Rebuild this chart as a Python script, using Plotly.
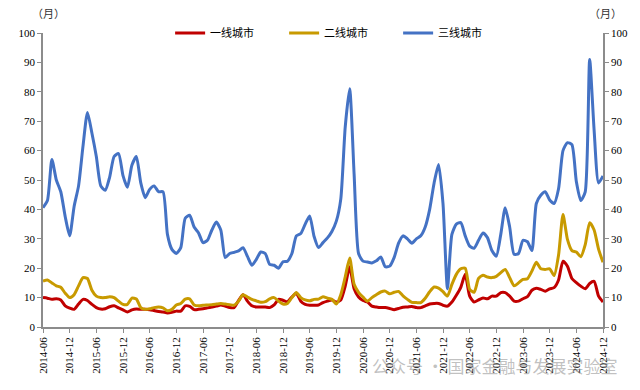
import plotly.graph_objects as go

months = []
y, m = 2014, 6
while (y, m) <= (2024, 12):
    months.append(f"{y}-{m:02d}")
    m += 1
    if m > 12:
        m = 1
        y += 1

tier1 = [10, 9.8, 9.4, 9.6, 9.2, 7.2, 6.4, 6, 7.8, 9.4, 9, 7.7, 6.6, 6.1, 6.2, 6.9, 7.2, 6.5, 5.8, 5.1,
         5.8, 6.1, 6, 6, 5.9, 5.6, 5.3, 5.1, 4.8, 5, 5.4, 5.4, 7.2, 7, 5.9, 6, 6.2, 6.5, 6.8, 7.1,
         7.5, 7.1, 6.6, 6.6, 9, 11, 8.8, 7.2, 6.8, 6.8, 6.8, 6.6, 7.5, 9.4, 9.1, 8.6, 10.2, 11.5, 8.8, 7.7,
         7.4, 7.4, 7.5, 8.3, 8.8, 9.2, 8.5, 9.2, 13.9, 20.5, 13, 10.2, 9, 8.5, 7.1, 6.8, 6.6, 6.6, 6.3, 5.9,
         6.3, 6.7, 6.8, 7, 6.6, 6.6, 7.2, 7.8, 8, 8, 7.4, 7.1, 8.5, 10.8, 13.5, 17.9, 10.5, 8.5, 9.2, 9.9,
         9.6, 10.5, 10.5, 11.7, 11.7, 10.5, 8.8, 8.8, 9.6, 10.3, 12.5, 13.2, 12.8, 12.2, 13, 13.4, 16, 22.4, 20.7, 16.5,
         15.1, 13.9, 13, 14.8, 15.5, 10.5, 8.5]

tier2 = [15.6, 16, 15, 14, 13.5, 11.5, 10, 11, 14, 16.8, 16.5, 12.5, 10.5, 10, 10, 10.3, 10, 8.8, 7.7, 7.7,
         9.8, 9.5, 6.6, 6, 6.2, 6.6, 6.8, 6.5, 5.5, 6, 7.5, 8, 9.5, 9.6, 7.5, 7.2, 7.4, 7.5, 7.6, 7.8,
         8, 7.8, 7.6, 7.4, 8.8, 11, 10.2, 9.4, 8.9, 8.4, 8.6, 9.6, 10, 8.8, 7.8, 8, 10, 11.7, 10, 9.2,
         8.9, 9.4, 9.5, 10.3, 9.8, 9.4, 7.8, 11, 17, 23.5, 14.5, 11.8, 10.2, 8.8, 10, 11, 11.9, 12.2, 11.3, 11.8,
         12.1, 10.6, 9.4, 8.4, 8.3, 8.3, 9.8, 12, 13.6, 13.2, 12, 10.5, 14.5, 17.9, 19.8, 20, 12.8, 11.8, 16.5, 17.6,
         17, 16.8, 17.2, 18.5, 19.6, 16.8, 14, 15, 16.2, 16.4, 19, 22, 19.8, 19.6, 19.8, 17.5, 24.5, 38.3, 29.8, 26,
         25.5, 23.9, 28, 35.5, 33, 26.5, 22]

tier3 = [40.6, 43, 57, 50, 46, 37.5, 31, 41, 48, 61.5, 73, 66, 58, 48, 46.5, 51, 58, 59, 51.5, 47.5,
         55, 58, 49, 44, 46.8, 48, 46, 46, 31.5, 26.4, 25, 27, 37, 38, 34, 32, 28.7, 29.5, 33, 35.7,
         33, 23.6, 25, 25.4, 25.9, 27, 24, 21, 23, 25.5, 25, 21.3, 21, 20, 22.2, 22.4, 25, 31, 31.8, 35,
         37.8, 30.8, 27, 28.7, 30.3, 32.5, 36, 43.5, 68, 81, 52, 25, 22.4, 22.1, 21.8, 22.5, 23.8, 20.5, 20.7, 23.6,
         28.5, 31, 30, 28.5, 30, 31, 34, 40, 49, 55.3, 42, 13, 31.5, 35, 35.5, 31, 27.5, 26.8, 29.5, 32,
         30.4, 26, 24.1, 31.5, 40.6, 34, 24.7, 25, 29.5, 29, 26, 42, 44.8, 46, 43.2, 42, 47, 60, 62.7, 62,
         49.5, 43, 46, 91, 67, 49, 51.4]

series = [("一线城市", tier1, "#C00000"), ("二线城市", tier2, "#C89A00"), ("三线城市", tier3, "#4472C4")]
yticks = [0, 10, 20, 30, 40, 50, 60, 70, 80, 90, 100]
xticks = months[::6]

fig = go.Figure()
for name, vals, col in series:
    fig.add_trace(go.Scatter(x=months, y=vals, name=name, mode="lines",
                             line=dict(color=col, width=3, shape="spline", smoothing=0.6)))
fig.add_trace(go.Scatter(x=months, y=tier3, yaxis="y2", mode="lines", showlegend=False,
                         line=dict(width=0), hoverinfo="skip", opacity=0))

axis_font = dict(family="Liberation Serif, Times New Roman, serif", size=11, color="#000")
fig.update_layout(
    width=640, height=390,
    margin=dict(l=43, r=37, t=33, b=63, autoexpand=False),
    plot_bgcolor="white", paper_bgcolor="white",
    showlegend=True,
    legend=dict(orientation="h", x=0.227, xanchor="left", y=1.0, yanchor="middle",
                font=dict(family="Noto Sans CJK SC", size=11, color="#000"),
                bgcolor="rgba(0,0,0,0)", entrywidth=69, itemwidth=30, tracegroupgap=0),
    xaxis=dict(type="category", range=[0, len(months) - 1], tickvals=xticks, ticktext=xticks,
               tickangle=-90, tickfont=axis_font, showgrid=False, showline=True, automargin=False,
               linecolor="#8c8c8c", linewidth=1.5, ticks="outside", ticklen=4, tickcolor="#8c8c8c"),
    yaxis=dict(range=[0, 100], tickvals=yticks, tickfont=axis_font, showgrid=False, zeroline=False,
               showline=True, linecolor="#8c8c8c", linewidth=1.5, ticks="outside", ticklen=4,
               tickcolor="#8c8c8c", automargin=False),
    yaxis2=dict(range=[0, 100], tickvals=yticks, tickfont=axis_font, overlaying="y", side="right",
                showgrid=False, zeroline=False, showline=True, linecolor="#8c8c8c", linewidth=1.5,
                ticks="outside", ticklen=4, tickcolor="#8c8c8c", automargin=False),
    annotations=[
        dict(text="（月）", xref="paper", yref="paper", x=0.009, y=1.035, xanchor="center",
             yanchor="bottom", showarrow=False, font=dict(family="Noto Sans CJK SC", size=11, color="#333")),
        dict(text="（月）", xref="paper", yref="paper", x=1.004, y=1.035, xanchor="center",
             yanchor="bottom", showarrow=False, font=dict(family="Noto Sans CJK SC", size=11, color="#333")),
        dict(text="公众号 · 国家金融与发展实验室", xref="paper", yref="paper", x=1.03, y=-0.13,
             xanchor="right", yanchor="middle", showarrow=False,
             font=dict(family="Noto Sans CJK SC", size=17, color="rgba(140,140,140,0.55)")),
    ],
)

fig.write_html("out.html", config={"displayModeBar": False},
               post_script="document.body.style.margin='0';document.body.style.overflow='hidden';")
